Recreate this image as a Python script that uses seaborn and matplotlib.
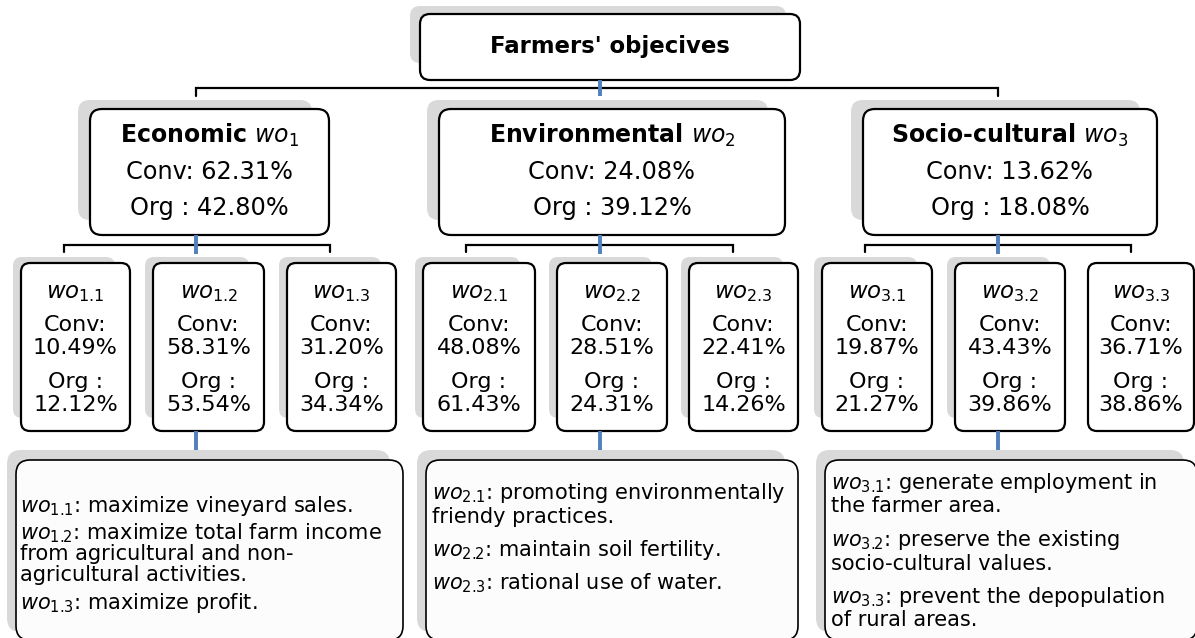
import matplotlib
matplotlib.use("Agg")
import matplotlib.pyplot as plt
from matplotlib.patches import FancyBboxPatch
import seaborn as sns

# objective weights (Conv / Org)
groups = ["Economic", "Environmental", "Socio-cultural"]
group_conv = [62.31, 24.08, 13.62]
group_org = [42.80, 39.12, 18.08]
sub_conv = [[10.49, 58.31, 31.20], [48.08, 28.51, 22.41], [19.87, 43.43, 36.71]]
sub_org = [[12.12, 53.54, 34.34], [61.43, 24.31, 14.26], [21.27, 39.86, 38.86]]

desc_econ = [["maximize vineyard sales."],
             ["maximize total farm income", "from agricultural and non-", "agricultural activities."],
             ["maximize profit."]]
desc_env = [["promoting environmentally", "friendy practices."],
            ["maintain soil fertility."],
            ["rational use of water."]]
desc_soc = [["generate employment in", "the farmer area."],
            ["preserve the existing", "socio-cultural values."],
            ["prevent the depopulation", "of rural areas."]]
descs = [desc_econ, desc_env, desc_soc]

sns.set_theme(style="white")
plt.rcParams['font.family'] = ['DejaVu Sans']
plt.rcParams['mathtext.fontset'] = 'dejavusans'
plt.rcParams['text.color'] = 'black'

SHADOW = '#d9d9d9'
BLUE = '#4f81bd'


def box(ax, x0, y0, x1, y1, r=10, lw=1.6, fc='white', shadow=True, sh=(10, 8, 15, 13)):
    if shadow:
        dx, dy, sx, sy = sh
        ax.add_patch(FancyBboxPatch((x0 - dx, y0 - dy), (x1 - x0) - sx + dx, (y1 - y0) - sy + dy,
                                    boxstyle=f"round,pad=0,rounding_size={r}",
                                    fc=SHADOW, ec='none', zorder=2))
    ax.add_patch(FancyBboxPatch((x0, y0), x1 - x0, y1 - y0,
                                boxstyle=f"round,pad=0,rounding_size={r}",
                                fc=fc, ec='black', lw=lw, zorder=3))


def bracket(ax, xa, xb, y, ytick):
    ax.plot([xa, xa, xb, xb], [ytick, y, y, ytick], color='black', lw=1.6, zorder=1,
            solid_joinstyle='miter')


def link(ax, x, ya, yb):
    ax.plot([x, x], [ya, yb], color=BLUE, lw=2.8, solid_capstyle='butt', zorder=4)


fig = plt.figure(figsize=(11.95, 6.38), dpi=100)
ax = fig.add_axes([0, 0, 1, 1])
ax.set_xlim(0, 1195)
ax.set_ylim(638, 0)
ax.axis('off')

# root
box(ax, 420, 14, 800, 80, r=10, sh=(10, 8, 14, 17))
ax.text(610, 47, "Farmers' objecives", ha='center', va='center', fontsize=16.4,
        fontweight='bold', zorder=5)
bracket(ax, 196, 998, 88, 96)
link(ax, 600, 80, 96)

g_x = [(90, 329), (439, 785), (863, 1157)]
g_link = [196, 600, 998]
br_x = [(64, 330), (466, 733), (865, 1131)]
s_x = [[(21, 130), (153, 264), (287, 396)],
       [(423, 535), (557, 667), (689, 798)],
       [(822, 932), (955, 1065), (1088, 1194)]]
d_x = [(16, 403), (426, 798), (825, 1197)]
d_layout = [(20, 503, 21.5, 27, 15), (432, 490, 25, 32.5, 15), (831, 480, 24.5, 32.5, 15)]

for i, name in enumerate(groups):
    x0, x1 = g_x[i]
    cx = (x0 + x1) / 2
    box(ax, x0, 109, x1, 235, r=12, sh=(12, 9, 17, 15))
    ax.text(cx, 135, name + " $\\mathit{wo}_{\\mathit{" + str(i + 1) + "}}$", ha='center',
            va='center', fontsize=17, fontweight='bold', zorder=5)
    ax.text(cx, 172, f"Conv: {group_conv[i]:.2f}%", ha='center', va='center', fontsize=17.3, zorder=5)
    ax.text(cx, 208, f"Org : {group_org[i]:.2f}%", ha='center', va='center', fontsize=17.3, zorder=5)

    bracket(ax, br_x[i][0], br_x[i][1], 245, 252)
    link(ax, g_link[i], 235, 254)

    for j in range(3):
        a, b = s_x[i][j]
        c = (a + b) / 2
        box(ax, a, 263, b, 431, r=9, sh=(8, 6, 15, 13), shadow=not (i == 2 and j == 2))
        ax.text(c, 293, "$\\mathit{wo}_{\\mathit{" + f"{i + 1}.{j + 1}" + "}}$", ha='center',
                va='center', fontsize=16.5, zorder=5)
        ax.text(c, 325, "Conv:", ha='center', va='center', fontsize=16, zorder=5)
        ax.text(c, 348, f"{sub_conv[i][j]:.2f}%", ha='center', va='center', fontsize=16, zorder=5)
        ax.text(c, 382, "Org :", ha='center', va='center', fontsize=16, zorder=5)
        ax.text(c, 405, f"{sub_org[i][j]:.2f}%", ha='center', va='center', fontsize=16, zorder=5)

    link(ax, g_link[i], 431, 450)

    # description box
    a, b = d_x[i]
    box(ax, a, 460, b, 640, r=14, lw=1.2, fc='#fcfcfc', sh=(9, 10, 13, 8))
    tx, y, pitch, gap, fs = d_layout[i]
    for j, para in enumerate(descs[i]):
        for k, line in enumerate(para):
            s = line
            if k == 0:
                s = "$\\mathit{wo}_{\\mathit{" + f"{i + 1}.{j + 1}" + "}}$: " + line
            ax.text(tx, y, s, ha='left', va='center_baseline', fontsize=fs, zorder=5)
            y += pitch
        y += gap - pitch

fig.savefig("out.png", dpi=100)
